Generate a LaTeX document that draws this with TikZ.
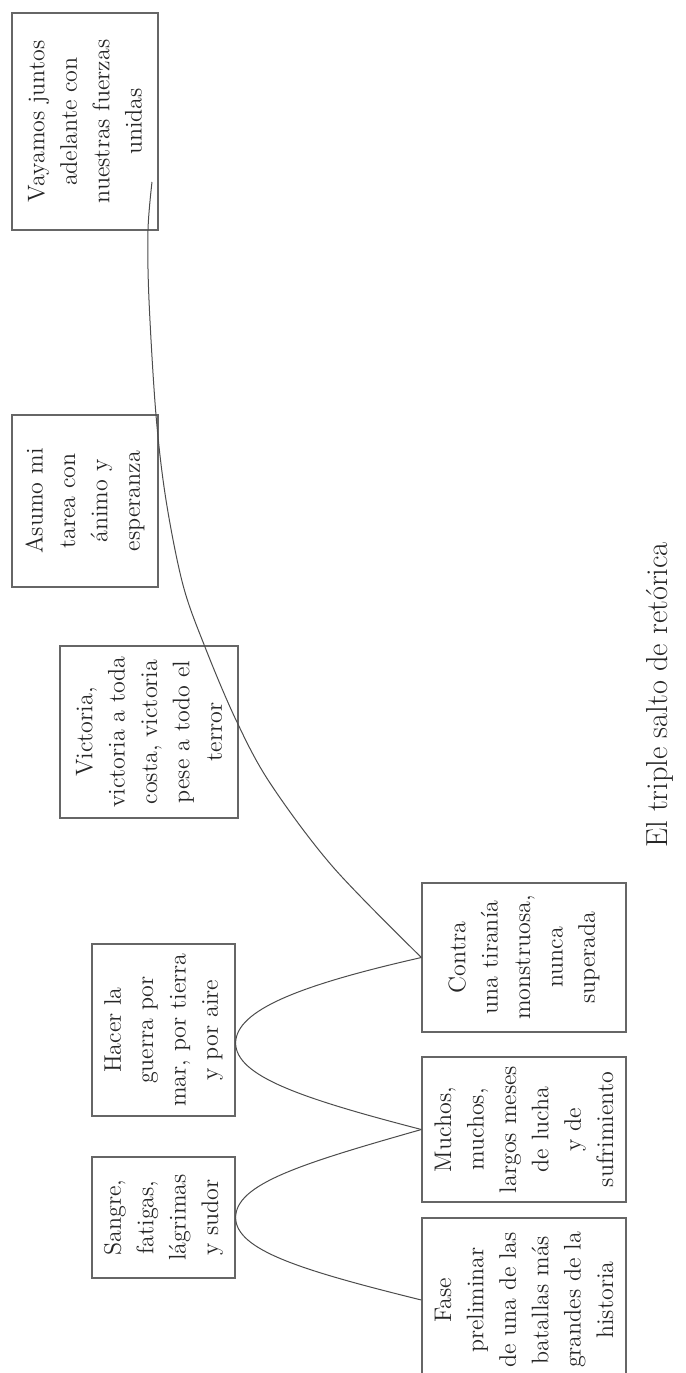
\documentclass[tikz,border=0pt]{standalone}
\usetikzlibrary{calc}
\begin{document}
\begin{tikzpicture}[x=0.5pt,y=-0.5pt,
  txtbox/.style={draw=black!60, line width=0.6pt, rotate=90, align=center,
    inner sep=0pt, text=black!85, font=\fontsize{12}{16.2}\selectfont},
  conn/.style={draw=black!70, line width=0.5pt}]
\useasboundingbox (0,0) rectangle (686,1373);
\clip (0,0) rectangle (686,1373);

\node[txtbox, minimum width=108.5pt, minimum height=73pt] (vay) at (85,121.5)
  {Vayamos juntos\\adelante con\\nuestras fuerzas\\unidas};
\node[txtbox, minimum width=86pt, minimum height=73pt] (asu) at (85,501)
  {Asumo mi\\tarea con\\ánimo y\\esperanza};
\node[txtbox, minimum width=86pt, minimum height=89pt] (vic) at (149,732)
  {Victoria,\\victoria a toda\\costa, victoria\\pese a todo el\\terror};
\node[txtbox, minimum width=86pt, minimum height=71.5pt] (hac) at (163.5,1030)
  {Hacer la\\guerra por\\mar, por tierra\\y por aire};
\node[txtbox, minimum width=60.5pt, minimum height=71.5pt] (san) at (163.5,1217.5)
  {Sangre,\\fatigas,\\lágrimas\\y sudor};
\node[txtbox, minimum width=74.5pt, minimum height=102pt] (con) at (524,957.5)
  {Contra\\una tiranía\\monstruosa,\\nunca\\superada};
\node[txtbox, minimum width=72.5pt, minimum height=102pt] (muc) at (524,1129.5)
  {Muchos,\\muchos,\\largos meses\\de lucha\\y de\\sufrimiento};
\node[txtbox, minimum width=82pt, minimum height=102pt] (fas) at (524,1300)
  {Fase\\preliminar\\de una de las\\batallas más\\grandes de la\\historia};

\node[rotate=90, text=black!85, font=\fontsize{15.2}{18}\selectfont, inner sep=0pt] (title) at (660,695)
  {El triple salto de retórica};

\coordinate (hv) at ($(hac.south)+(0,13)$);
\coordinate (fin) at (152,182);

\draw[conn] (fas.north) .. controls (300,1270) and (236,1250) .. (san.south);
\draw[conn] (san.south) .. controls (236,1184) and (300,1164) .. (muc.north);
\draw[conn] (muc.north) .. controls (300,1098) and (236,1076) .. (hv);
\draw[conn] (hv) .. controls (236,1010) and (300,985) .. (con.north);
\draw[conn] plot[smooth, tension=0.55] coordinates {(con.north) (333,867) (270,783) (236,720) (205,647) (183,585) (166,500) (156,415) (149,300) (148,230) (fin)};
\end{tikzpicture}
\end{document}
